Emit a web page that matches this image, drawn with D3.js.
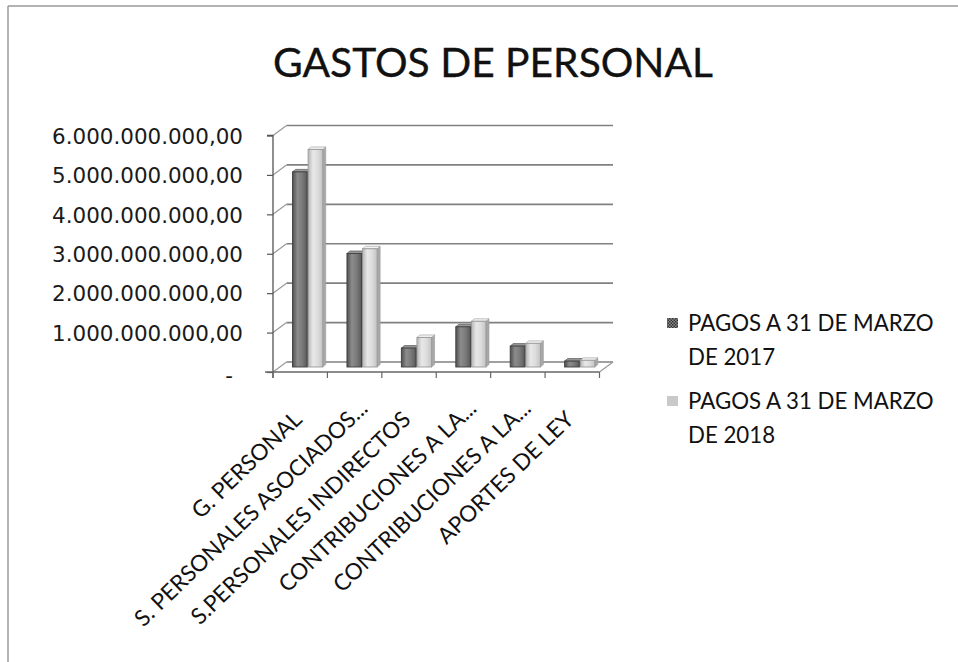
<!DOCTYPE html>
<html>
<head>
<meta charset="utf-8">
<script src="https://cdn.jsdelivr.net/npm/d3@7"></script>
<style>
  html, body { margin: 0; padding: 0; background: #ffffff; }
  svg { display: block; }
</style>
</head>
<body>
<svg id="chart" width="958" height="662"></svg>
<script>
// ---------------- DATA ----------------
const titleText = "GASTOS DE PERSONAL";
const categories = [
  "G. PERSONAL",
  "S. PERSONALES ASOCIADOS...",
  "S.PERSONALES INDIRECTOS",
  "CONTRIBUCIONES A LA...",
  "CONTRIBUCIONES A LA...",
  "APORTES DE LEY"
];
const seriesNames = ["PAGOS A 31 DE MARZO DE 2017", "PAGOS A 31 DE MARZO DE 2018"];
const legendLines = [["PAGOS A 31 DE MARZO", "DE 2017"], ["PAGOS A 31 DE MARZO", "DE 2018"]];
const values2017 = [4.95e9, 2.88e9, 0.48e9, 1.02e9, 0.53e9, 0.15e9];
const values2018 = [5.52e9, 3.00e9, 0.75e9, 1.16e9, 0.60e9, 0.17e9];
const tickValues = [0, 1e9, 2e9, 3e9, 4e9, 5e9, 6e9];
const tickLabels = ["-", "1.000.000.000,00", "2.000.000.000,00", "3.000.000.000,00",
                    "4.000.000.000,00", "5.000.000.000,00", "6.000.000.000,00"];

// ---------------- SETUP ----------------
const svg = d3.select("#chart");
const W = 958, H = 662;
const seriesValues = [values2017, values2018];

const canvas = document.createElement("canvas");
const ctx = canvas.getContext("2d");
function fitSize(text, family, weight, target) {
  ctx.font = `${weight} 100px ${family}`;
  const w = ctx.measureText(text).width;
  return 100 * target / w;
}
function textW(text, family, weight, size) {
  ctx.font = `${weight} ${size}px ${family}`;
  return ctx.measureText(text).width;
}

// defs: gradients + pattern
const defs = svg.append("defs");
const gradSpecs = [
  { id: "g2017", stops: ["#4f4f4f", "#8c8c8c", "#7a7a7a", "#5a5a5a"] },
  { id: "g2018", stops: ["#b5b5b5", "#e8e8e8", "#dcdcdc", "#c2c2c2"] }
];
gradSpecs.forEach(g => {
  const lg = defs.append("linearGradient").attr("id", g.id)
    .attr("x1", "0%").attr("x2", "100%").attr("y1", "0%").attr("y2", "0%");
  g.stops.forEach((c, i) => lg.append("stop")
    .attr("offset", (i / (g.stops.length - 1) * 100) + "%").attr("stop-color", c));
});
const pat = defs.append("pattern").attr("id", "legPat")
  .attr("width", 3).attr("height", 3).attr("patternUnits", "userSpaceOnUse");
pat.append("rect").attr("width", 3).attr("height", 3).attr("fill", "#8a8a8a");
pat.append("rect").attr("width", 1.5).attr("height", 1.5).attr("fill", "#333");
pat.append("rect").attr("x", 1.5).attr("y", 1.5).attr("width", 1.5).attr("height", 1.5).attr("fill", "#333");

// frame
svg.append("line").attr("x1", 8).attr("x2", W).attr("y1", 6).attr("y2", 6)
  .attr("stroke", "#9a9a9a").attr("stroke-width", 1.5);
svg.append("line").attr("x1", 8).attr("x2", 8).attr("y1", 6).attr("y2", H)
  .attr("stroke", "#9a9a9a").attr("stroke-width", 1.5);

// ---------------- SCALES ----------------
const y = d3.scaleLinear().domain([0, 6e9]).range([372, 135.5]);
const x = d3.scaleBand().domain(d3.range(categories.length)).range([273, 599.5]);
const xs = d3.scaleBand().domain(d3.range(seriesNames.length))
  .range([x.bandwidth() * 0.235, x.bandwidth() * 0.79]).paddingInner(0.06);
const depthX = 13.5, depthY = -10;

// ---------------- WALLS / GRID ----------------
const gridColor = "#808080";
const grid = svg.append("g");
tickValues.forEach(v => {
  if (v > 0) {
    grid.append("line")
      .attr("x1", x.range()[0] + depthX).attr("x2", x.range()[1] + depthX)
      .attr("y1", y(v) + depthY).attr("y2", y(v) + depthY)
      .attr("stroke", gridColor).attr("stroke-width", 1.6);
  }
  grid.append("line")
    .attr("x1", x.range()[0]).attr("y1", y(v))
    .attr("x2", x.range()[0] + depthX).attr("y2", y(v) + depthY)
    .attr("stroke", "#9a9a9a").attr("stroke-width", 1.2);
});
grid.append("line")
  .attr("x1", x.range()[0] + depthX).attr("x2", x.range()[1] + depthX)
  .attr("y1", y(0) + depthY).attr("y2", y(0) + depthY)
  .attr("stroke", gridColor).attr("stroke-width", 1.4);
grid.append("line")
  .attr("x1", x.range()[1]).attr("y1", y(0))
  .attr("x2", x.range()[1] + depthX).attr("y2", y(0) + depthY)
  .attr("stroke", "#9a9a9a").attr("stroke-width", 1.2);

// ---------------- BARS ----------------
const bars = svg.append("g");
const sd = 3, sdy = -2.5;
const strokeCols = ["#3f3f3f", "#9a9a9a"];
const sideCols = ["#3a3a3a", "#a8a8a8"];
const topCols = ["#9a9a9a", "#f2f2f2"];
categories.forEach((c, i) => {
  seriesValues.forEach((vals, s) => {
    const v = vals[i];
    const bx = x(i) + xs(s) + depthX / 2;
    const bw = xs.bandwidth();
    const base = y(0) + depthY / 2;
    const top = y(v) + depthY / 2;
    const g = bars.append("g");
    g.append("polygon")
      .attr("points", [[bx + bw, top], [bx + bw + sd, top + sdy], [bx + bw + sd, base + sdy], [bx + bw, base]].join(" "))
      .attr("fill", sideCols[s]).attr("stroke", strokeCols[s]).attr("stroke-width", 0.6);
    g.append("polygon")
      .attr("points", [[bx, top], [bx + sd, top + sdy], [bx + bw + sd, top + sdy], [bx + bw, top]].join(" "))
      .attr("fill", topCols[s]).attr("stroke", strokeCols[s]).attr("stroke-width", 0.6);
    g.append("rect")
      .attr("x", bx).attr("y", top).attr("width", bw).attr("height", base - top)
      .attr("fill", `url(#g${s === 0 ? 2017 : 2018})`)
      .attr("stroke", strokeCols[s]).attr("stroke-width", 0.9);
  });
});

// ---------------- AXES ----------------
const yFont = "DejaVu Sans";
const ySize = fitSize("6.000.000.000,00", yFont, "normal", 191);
const yAxis = d3.axisLeft(y).tickValues(tickValues)
  .tickFormat((d, i) => tickLabels[i]).tickSize(6).tickPadding(24);
const yg = svg.append("g").attr("transform", `translate(${x.range()[0]},0)`).call(yAxis);
yg.select(".domain").attr("stroke", "#555").attr("stroke-width", 1.3)
  .attr("d", `M-6,${y(6e9)}H0V${y(0) + 6}`);
yg.selectAll(".tick line").attr("stroke", "#555").attr("stroke-width", 1.2);
yg.selectAll(".tick text")
  .attr("font-family", yFont).attr("font-size", ySize).attr("fill", "#1a1a1a")
  .attr("dy", "0.36em");
yg.selectAll(".tick text").filter((d, i) => i === 0).attr("dx", -10).attr("dy", "0.5em");

const xAxis = d3.axisBottom(x).tickValues([]).tickSize(0);
const xg = svg.append("g").attr("transform", `translate(0,${y(0)})`).call(xAxis);
xg.select(".domain").attr("stroke", "#666").attr("stroke-width", 1.3)
  .attr("d", `M${x.range()[0] - 8},0H${x.range()[1]}`);
xg.selectAll("line.bt").data(d3.range(categories.length + 1)).join("line")
  .attr("class", "bt")
  .attr("x1", d => x.range()[0] + d * x.step()).attr("x2", d => x.range()[0] + d * x.step())
  .attr("y1", 0).attr("y2", 6).attr("stroke", "#666").attr("stroke-width", 1.2);

// category labels
const lblFont = "Lato";
const lblSize = fitSize("CONTRIBUCIONES A LA...", lblFont, "normal", 266);
const ang = -44;
const rad = ang * Math.PI / 180;
const ellW = textW("...", lblFont, "normal", lblSize);
svg.append("g").selectAll("text").data(categories).join("text")
  .attr("transform", (d, i) => {
    let ax = x(i) + x.bandwidth() / 2 + 3;
    let ay = 421;
    if (d.endsWith("...")) { ax += ellW * Math.cos(rad); ay += ellW * Math.sin(rad); }
    return `translate(${ax},${ay}) rotate(${ang})`;
  })
  .attr("text-anchor", "end")
  .attr("font-family", lblFont).attr("font-size", lblSize).attr("fill", "#111")
  .text(d => d);

// ---------------- TITLE ----------------
const tSize = fitSize(titleText, "Lato", "normal", 440);
svg.append("text").attr("x", 493).attr("y", 77)
  .attr("text-anchor", "middle").attr("font-family", "Lato").attr("font-size", tSize)
  .attr("fill", "#111").attr("stroke", "#111").attr("stroke-width", 0.35)
  .text(titleText);

// ---------------- LEGEND ----------------
const legSize = fitSize("PAGOS A 31 DE MARZO", "Lato", "normal", 247);
const legY = [323, 401];
const legFills = ["url(#legPat)", "#c9c9c9"];
const leg = svg.append("g");
seriesNames.forEach((s, k) => {
  leg.append("rect").attr("x", 667).attr("y", legY[k] - 5).attr("width", 11).attr("height", 10)
    .attr("fill", legFills[k]);
  legendLines[k].forEach((ln, j) => {
    leg.append("text").attr("x", 688).attr("y", legY[k] + j * 34)
      .attr("dy", "0.35em")
      .attr("font-family", "Lato").attr("font-size", legSize).attr("fill", "#111")
      .text(ln);
  });
});
</script>
</body>
</html>
